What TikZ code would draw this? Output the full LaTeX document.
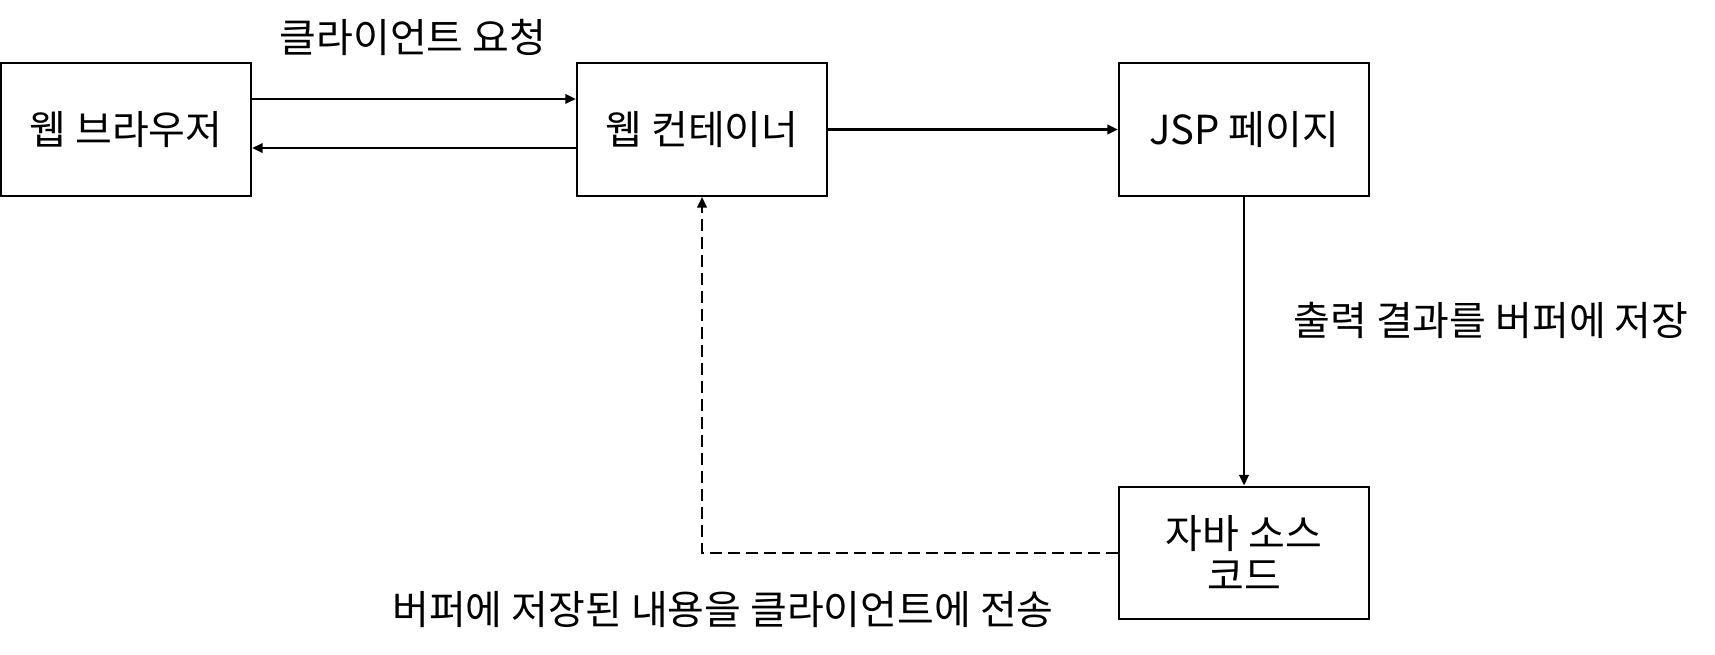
\documentclass[tikz,border=0pt]{standalone}
\usepackage{fontspec}
\setmainfont{Noto Sans CJK KR}
\usetikzlibrary{arrows.meta}

\tikzset{
  stagebox/.style={draw, line width=1.6pt, minimum width=187.5pt, minimum height=99.5pt, inner sep=0pt, align=center, font=\fontsize{30}{32}\selectfont},
  flowlabel/.style={inner sep=0pt, font=\fontsize{30}{36}\selectfont},
  flowarrow/.style={line width=2pt, -{Triangle[length=8pt,width=7pt]}},
}

\begin{document}
\begin{tikzpicture}[x=0.75pt,y=0.75pt,yscale=-1,xscale=1]
        \useasboundingbox (0,0) rectangle (1715,655);
        %Shape: Rectangle [id:browser] 
        \node [stagebox] (browser) at (126,129.5) {웹 브라우저};
        %Shape: Rectangle [id:container] 
        \node [stagebox] (container) at (702,129.5) {웹 컨테이너};
        %Shape: Rectangle [id:jsp] 
        \node [stagebox] (jsp) at (1244,129.5) {JSP 페이지};
        %Shape: Rectangle [id:javasrc] 
        \node [stagebox] (javasrc) at (1244,553) {자바 소스\\코드};

        %Straight Lines [id:request] 
        \draw [flowarrow] ([yshift=-22.9pt]browser.east) -- ([yshift=-22.9pt]container.west) ;
        %Straight Lines [id:response] 
        \draw [flowarrow] ([yshift=13.9pt]container.west) -- ([yshift=13.9pt]browser.east) ;
        %Straight Lines [id:translate] 
        \draw [flowarrow] (container) -- (jsp) ;
        %Straight Lines [id:buffer] 
        \draw [flowarrow] (jsp) -- (javasrc) ;
        %Straight Lines [id:send] 
        \draw [flowarrow] [dash pattern={on 9pt off 4.5pt}]  (javasrc.west) -| (container.south) ;

        %Text labels
        \node [flowlabel] (reqlabel) at (413,37) {클라이언트 요청};
        \node [flowlabel] (buflabel) at (1491,320) {출력 결과를 버퍼에 저장};
        \node [flowlabel] (sendlabel) at (723,610) {버퍼에 저장된 내용을 클라이언트에 전송};
    \end{tikzpicture}
\end{document}
